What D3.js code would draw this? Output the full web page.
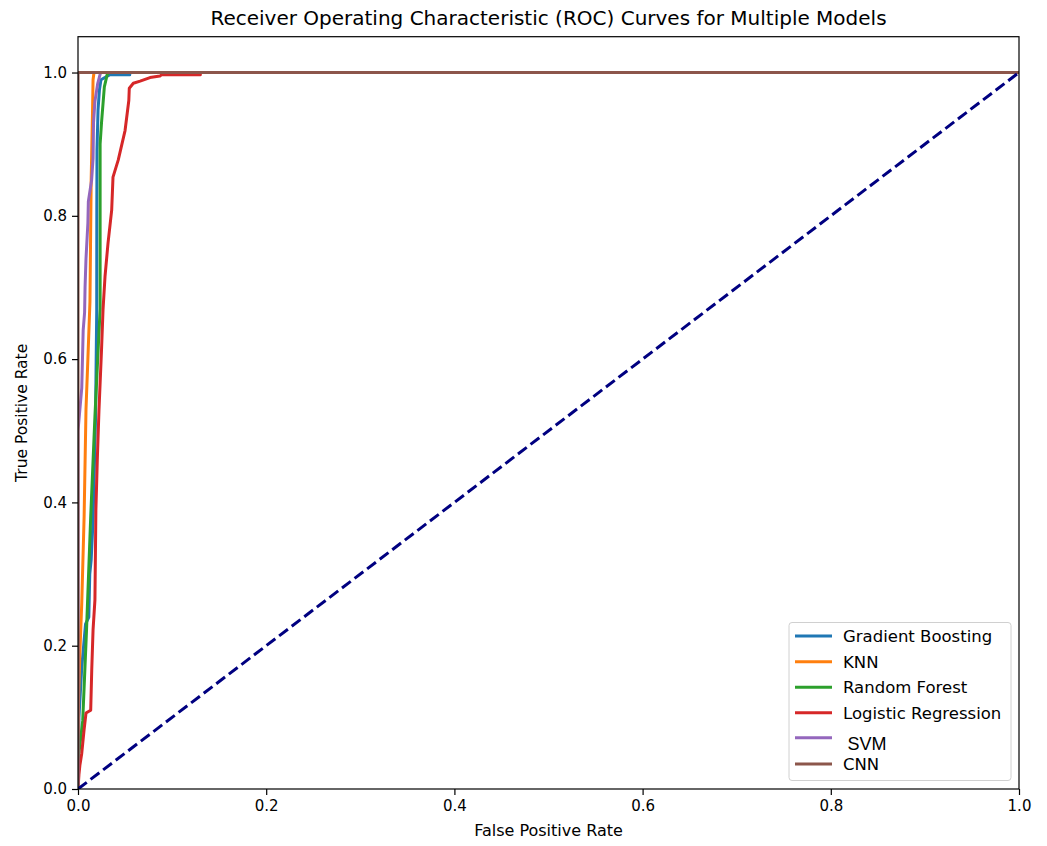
<!DOCTYPE html>
<html>
<head>
<meta charset="utf-8">
<script src="https://cdn.jsdelivr.net/npm/d3@7"></script>
<style>
  html, body { margin: 0; padding: 0; background: #fff; }
  text { font-family: "DejaVu Sans", sans-serif; }
</style>
</head>
<body>
<svg id="chart" width="1047" height="846"></svg>
<script>
// ---- data ----
const models = ["Gradient Boosting", "KNN", "Random Forest", "Logistic Regression", "SVM", "CNN"];
const colors = ["#1f77b4", "#ff7f0e", "#2ca02c", "#d62728", "#9467bd", "#8c564b"];

const gradientBoostingFpr = [0, 0.001, 0.004, 0.008, 0.0115, 0.0125, 0.014, 0.016, 0.0186, 0.0199, 0.020, 0.0202, 0.0213, 0.0228, 0.0244, 0.034, 0.055, 0.055, 1];
const gradientBoostingTpr = [0, 0.10, 0.17, 0.23, 0.24, 0.30, 0.32, 0.375, 0.515, 0.668, 0.808, 0.892, 0.948, 0.976, 0.990, 0.997, 0.997, 1.0, 1.0];

const knnFpr = [0, 0.0005, 0.002, 0.004, 0.0065, 0.0085, 0.0105, 0.0127, 0.014, 0.0155, 0.016, 0.017, 1];
const knnTpr = [0, 0.12, 0.19, 0.26, 0.38, 0.53, 0.60, 0.68, 0.85, 0.95, 0.99, 1.0, 1.0];

const randomForestFpr = [0, 0.001, 0.005, 0.009, 0.0135, 0.018, 0.0235, 0.0235, 0.025, 0.028, 0.031, 0.033, 1];
const randomForestTpr = [0, 0.05, 0.095, 0.22, 0.38, 0.52, 0.67, 0.90, 0.93, 0.98, 0.997, 1.0, 1.0];

const logisticRegressionFpr = [0, 0.001, 0.002, 0.004, 0.0064, 0.0085, 0.0135, 0.0146, 0.016, 0.018, 0.019, 0.0205, 0.0223, 0.025, 0.0266, 0.0287, 0.0319, 0.0358, 0.0372, 0.0428, 0.050, 0.054, 0.0545, 0.0588, 0.066, 0.0765, 0.087, 0.089, 0.13, 0.13, 1];
const logisticRegressionTpr = [0, 0.02, 0.033, 0.05, 0.082, 0.106, 0.11, 0.166, 0.222, 0.264, 0.389, 0.459, 0.529, 0.613, 0.669, 0.715, 0.762, 0.808, 0.854, 0.878, 0.919, 0.961, 0.978, 0.985, 0.988, 0.993, 0.995, 0.997, 0.997, 1.0, 1.0];

const svmFpr = [0, 0, 0.001, 0.002, 0.004, 0.0055, 0.007, 0.0075, 0.0085, 0.0105, 0.011, 0.0145, 0.016, 0.0165, 0.018, 0.021, 0.023, 0.024, 1];
const svmTpr = [0, 0.50, 0.515, 0.53, 0.56, 0.64, 0.665, 0.70, 0.74, 0.79, 0.82, 0.85, 0.88, 0.93, 0.96, 0.985, 0.995, 1.0, 1.0];

const cnnFpr = [0, 0, 1];
const cnnTpr = [0, 1, 1];

const chanceFpr = [0, 1];
const chanceTpr = [0, 1];

const xTicks = [0, 0.2, 0.4, 0.6, 0.8, 1.0];
const yTicks = [0, 0.2, 0.4, 0.6, 0.8, 1.0];

const titleText = "Receiver Operating Characteristic (ROC) Curves for Multiple Models";
const xLabelText = "False Positive Rate";
const yLabelText = "True Positive Rate";

// ---- build series ----
const fprs = [gradientBoostingFpr, knnFpr, randomForestFpr, logisticRegressionFpr, svmFpr, cnnFpr];
const tprs = [gradientBoostingTpr, knnTpr, randomForestTpr, logisticRegressionTpr, svmTpr, cnnTpr];
const series = models.map((m, i) => ({
  name: m, color: colors[i],
  points: fprs[i].map((f, j) => [f, tprs[i][j]])
}));

// ---- layout ----
const svg = d3.select("#chart");
const pLeft = 78, pRight = 1019, pBottom = 789, pTop = 36.7;

const x = d3.scaleLinear().domain([0, 1]).range([pLeft, pRight]);
const y = d3.scaleLinear().domain([0, 1.05]).range([pBottom, pTop]);

svg.append("rect").attr("x", 0).attr("y", 0).attr("width", 1047).attr("height", 846).attr("fill", "#fff");

const clip = svg.append("defs").append("clipPath").attr("id", "clip");
clip.append("rect").attr("x", pLeft).attr("y", pTop).attr("width", pRight - pLeft).attr("height", pBottom - pTop);

const line = d3.line().x(d => x(d[0])).y(d => y(d[1]));

const plot = svg.append("g").attr("clip-path", "url(#clip)");

series.forEach(s => {
  plot.append("path")
    .datum(s.points)
    .attr("d", line)
    .attr("fill", "none")
    .attr("stroke", s.color)
    .attr("stroke-width", 3)
    .attr("stroke-linejoin", "round");
});

plot.append("path")
  .datum(chanceFpr.map((f, i) => [f, chanceTpr[i]]))
  .attr("d", line)
  .attr("fill", "none")
  .attr("stroke", "#000080")
  .attr("stroke-width", 3)
  .attr("stroke-dasharray", "11,4.8");

// ---- axes ----
const xAxis = d3.axisBottom(x).tickValues(xTicks).tickFormat(d3.format(".1f")).tickSizeOuter(0).tickSize(6).tickPadding(5);
const yAxis = d3.axisLeft(y).tickValues(yTicks).tickFormat(d3.format(".1f")).tickSizeOuter(0).tickSize(6).tickPadding(5);

const gx = svg.append("g").attr("transform", `translate(0,${pBottom})`).call(xAxis);
const gy = svg.append("g").attr("transform", `translate(${pLeft},0)`).call(yAxis);
[gx, gy].forEach(g => {
  g.select(".domain").remove();
  g.selectAll("line").attr("stroke", "#000").attr("stroke-width", 1.2);
  g.selectAll("text").attr("fill", "#000").style("font-size", "15px").style("font-family", "DejaVu Sans, sans-serif");
});

// frame
svg.append("rect")
  .attr("x", pLeft).attr("y", pTop).attr("width", pRight - pLeft).attr("height", pBottom - pTop)
  .attr("fill", "none").attr("stroke", "#000").attr("stroke-width", 1.2);

// ---- labels ----
svg.append("text").attr("x", (pLeft + pRight) / 2 + 0).attr("y", 25)
  .attr("text-anchor", "middle").style("font-size", "20px").attr("fill", "#000").text(titleText);
svg.append("text").attr("x", (pLeft + pRight) / 2).attr("y", 836)
  .attr("text-anchor", "middle").style("font-size", "16px").attr("fill", "#000").text(xLabelText);
svg.append("text").attr("transform", `translate(27,${(pTop + pBottom) / 2}) rotate(-90)`)
  .attr("text-anchor", "middle").style("font-size", "15.5px").attr("fill", "#000").text(yLabelText);

// ---- legend ----
const lg = svg.append("g");
lg.append("rect").attr("x", 789).attr("y", 622.5).attr("width", 222).attr("height", 158)
  .attr("rx", 3).attr("fill", "#fff").attr("fill-opacity", 0.85)
  .attr("stroke", "#d0d0d0").attr("stroke-width", 1);
const rowY = [636, 661.7, 687.3, 712.7, 737.7, 764];
series.forEach((s, i) => {
  lg.append("line").attr("x1", 795).attr("x2", 832).attr("y1", rowY[i]).attr("y2", rowY[i])
    .attr("stroke", s.color).attr("stroke-width", 3);
  const t = lg.append("text").attr("fill", "#000").text(s.name);
  if (s.name === "SVM") {
    t.attr("x", 847.5).attr("y", rowY[i] + 12).style("font-size", "18px").style("font-family", "Liberation Sans, Arial, sans-serif");
  } else {
    t.attr("x", 843).attr("y", rowY[i] + 6).style("font-size", "16.5px");
  }
});
</script>
</body>
</html>
